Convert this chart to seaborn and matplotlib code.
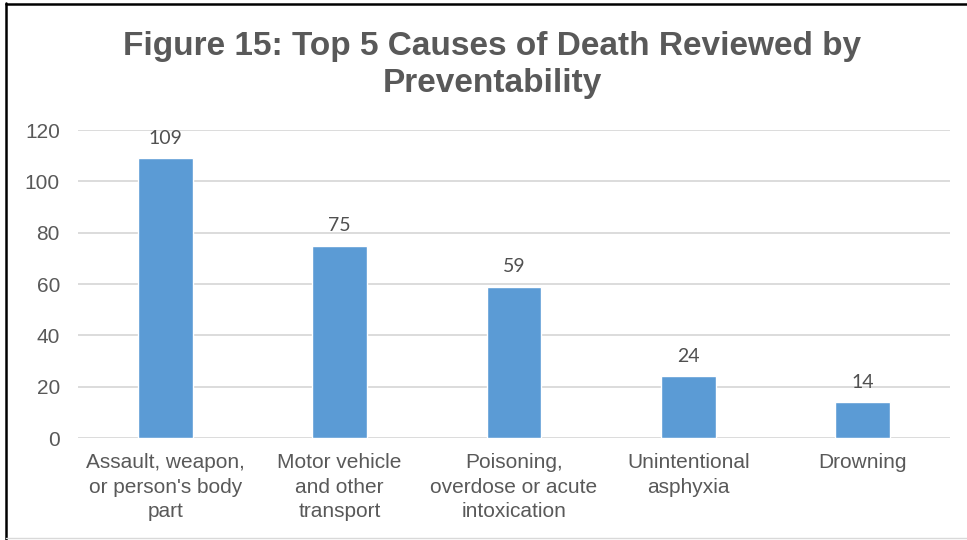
import seaborn as sns
import pandas as pd
import matplotlib.pyplot as plt
from matplotlib.lines import Line2D

# chart values
causes = ["Assault, weapon,\nor person's body\npart",
          "Motor vehicle\nand other\ntransport",
          "Poisoning,\noverdose or acute\nintoxication",
          "Unintentional\nasphyxia",
          "Drowning"]
deaths = [109, 75, 59, 24, 14]
y_ticks = [0, 20, 40, 60, 80, 100, 120]

title = "Figure 15: Top 5 Causes of Death Reviewed by\nPreventability"

bar_color = '#5B9BD5'
text_gray = '#595959'

sns.set_style('white')
plt.rcParams['font.family'] = ['Liberation Sans', 'DejaVu Sans']

df = pd.DataFrame({'cause': causes, 'deaths': deaths})

fig = plt.figure(figsize=(9.67, 5.4), dpi=100)
ax = fig.add_axes([78 / 967, 1 - 438 / 540, (950 - 78) / 967, (438 - 130) / 540])

sns.barplot(data=df, x='cause', y='deaths', color=bar_color, width=0.315,
            saturation=1, ax=ax, zorder=3)

# value labels above the bars
for cont in ax.containers:
    ax.bar_label(cont, labels=[str(v) for v in deaths], padding=8,
                 fontsize=14, color='#505050', family=['Lato', 'DejaVu Sans'])

ax.set_ylim(0, 120)
ax.set_xlim(-0.5, len(causes) - 0.5)
ax.set_yticks(y_ticks)
ax.yaxis.grid(True, color='#d9d9d9', linewidth=1.3, zorder=0)
ax.set_axisbelow(True)
ax.set_xlabel('')
ax.set_ylabel('')
ax.tick_params(axis='y', length=0, pad=13, labelsize=15, labelcolor=text_gray)
ax.tick_params(axis='x', length=0, pad=11, labelsize=15, labelcolor=text_gray)
for lbl in ax.get_xticklabels():
    lbl.set_linespacing(1.36)
for sp in ax.spines.values():
    sp.set_visible(False)

fig.text(492 / 967, 1 - 31 / 540, title, ha='center', va='top', fontsize=24,
         fontweight='bold', color=text_gray, linespacing=1.25)

# screenshot frame: dark edge on left and top, light edge at bottom
fig.add_artist(Line2D([5.5 / 967, 5.5 / 967], [0, 1 - 3 / 540], color='black', linewidth=1.8))
fig.add_artist(Line2D([5.5 / 967, 1], [1 - 3.5 / 540, 1 - 3.5 / 540], color='black', linewidth=1.8))
fig.add_artist(Line2D([5.5 / 967, 1], [1 - 537.5 / 540, 1 - 537.5 / 540], color='#d9d9d9', linewidth=1))

plt.savefig('out.png', dpi=100)
plt.close()
